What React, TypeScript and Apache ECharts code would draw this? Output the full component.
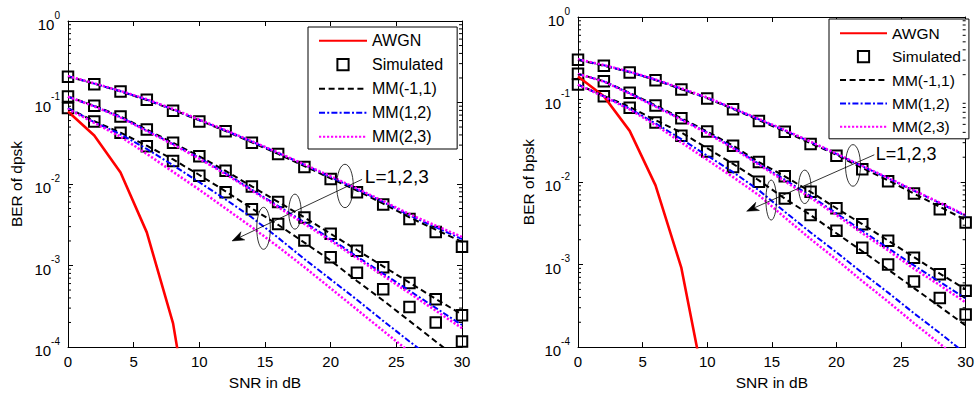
import React, { useEffect, useRef } from "react";
import * as echarts from "echarts";

// ---------- data ----------
const SNR = [0, 2, 4, 6, 8, 10, 12, 14, 16, 18, 20, 22, 24, 26, 28, 30];
const AWGN_SNR = [0, 2, 4, 6, 8, 10];

// Left panel: DPSK
const DPSK_AWGN = [0.0776, 0.0393, 0.0138, 0.00255, 0.000195, 0.0000023];
const DPSK_SIM_L1 = [0.2075, 0.1675, 0.1361, 0.1079, 0.0794, 0.0586, 0.0443, 0.032, 0.0234, 0.0162, 0.0115, 0.00794, 0.00562, 0.00372, 0.00257, 0.0017];
const DPSK_SIM_L2 = [0.1183, 0.0912, 0.0675, 0.0465, 0.032, 0.0219, 0.0145, 0.00933, 0.00603, 0.00389, 0.00245, 0.00152, 0.000955, 0.00061, 0.000385, 0.000245];
const DPSK_SIM_L3 = [0.0855, 0.0586, 0.0424, 0.029, 0.0191, 0.0126, 0.00794, 0.0049, 0.00324, 0.00202, 0.00126, 0.000813, 0.000513, 0.000309, 0.0002, 0.000117];
const DPSK_MM11_L1 = [0.209, 0.17, 0.1365, 0.1072, 0.0813, 0.0603, 0.0447, 0.0324, 0.0234, 0.0166, 0.0117, 0.00832, 0.00575, 0.00389, 0.00275, 0.00195];
const DPSK_MM11_L2 = [0.1183, 0.0912, 0.0675, 0.0465, 0.032, 0.0219, 0.0145, 0.00933, 0.00603, 0.00389, 0.00245, 0.00155, 0.000977, 0.000617, 0.000389, 0.000251];
const DPSK_MM11_L3 = [0.0851, 0.0589, 0.0427, 0.0295, 0.02, 0.0129, 0.00813, 0.00501, 0.00316, 0.00191, 0.00115, 0.000646, 0.000372, 0.000209, 0.000117, 0.0000661];
const DPSK_MM12_L1 = [0.21, 0.1706, 0.1374, 0.1084, 0.0822, 0.061, 0.0452, 0.0331, 0.024, 0.0172, 0.01216, 0.00861, 0.00603, 0.00412, 0.00295, 0.00211];
const DPSK_MM12_L2 = [0.1175, 0.0902, 0.0661, 0.0452, 0.0309, 0.0209, 0.0135, 0.00851, 0.00537, 0.00339, 0.00211, 0.00129, 0.000794, 0.00049, 0.000302, 0.000186];
const DPSK_MM12_L3 = [0.0851, 0.0575, 0.0407, 0.0269, 0.017, 0.0105, 0.00646, 0.00389, 0.00219, 0.0012, 0.000676, 0.00038, 0.000209, 0.000117, 0.0000661, 0.0000372];
const DPSK_MM23_L1 = [0.2113, 0.1718, 0.1387, 0.1096, 0.0832, 0.0617, 0.0457, 0.0335, 0.0243, 0.0174, 0.01245, 0.00881, 0.00617, 0.00427, 0.00309, 0.00224];
const DPSK_MM23_L2 = [0.1175, 0.0897, 0.0653, 0.0447, 0.0305, 0.0204, 0.0132, 0.00832, 0.00519, 0.00324, 0.00202, 0.00123, 0.00075, 0.000457, 0.000279, 0.00017];
const DPSK_MM23_L3 = [0.0832, 0.0562, 0.038, 0.0234, 0.0141, 0.00851, 0.00501, 0.00295, 0.0017, 0.000955, 0.000525, 0.000288, 0.000158, 0.0000871, 0.0000479, 0.0000263];

// Right panel: BPSK
const BPSK_AWGN = [0.1905, 0.1096, 0.0417, 0.00912, 0.000912, 0.0000229];
const BPSK_SIM_L1 = [0.3027, 0.2564, 0.2133, 0.171, 0.1321, 0.103, 0.076, 0.0551, 0.0407, 0.029, 0.0209, 0.01426, 0.01023, 0.00728, 0.00468, 0.00324];
const BPSK_SIM_L2 = [0.2056, 0.1663, 0.1205, 0.0849, 0.0593, 0.041, 0.0276, 0.01746, 0.01175, 0.00762, 0.00481, 0.00309, 0.00195, 0.00121, 0.000762, 0.000482];
const BPSK_SIM_L3 = [0.1517, 0.1099, 0.0796, 0.0526, 0.0364, 0.0234, 0.01521, 0.01005, 0.00634, 0.00398, 0.00257, 0.0016, 0.001005, 0.000624, 0.000394, 0.000248];
const BPSK_MM11_L1 = [0.302, 0.257, 0.214, 0.1718, 0.1334, 0.1035, 0.0767, 0.0562, 0.0412, 0.0295, 0.0214, 0.01479, 0.01047, 0.00724, 0.00501, 0.00347];
const BPSK_MM11_L2 = [0.2056, 0.1663, 0.1205, 0.0849, 0.0593, 0.041, 0.0276, 0.01746, 0.01175, 0.00762, 0.00481, 0.00309, 0.00195, 0.00123, 0.000776, 0.000501];
const BPSK_MM11_L3 = [0.1514, 0.1109, 0.0813, 0.0562, 0.0398, 0.0257, 0.0166, 0.01047, 0.00631, 0.00398, 0.0024, 0.00145, 0.000871, 0.000519, 0.000309, 0.000183];
const BPSK_MM12_L1 = [0.3055, 0.26, 0.2163, 0.1738, 0.1349, 0.1047, 0.0776, 0.0575, 0.0422, 0.0305, 0.0219, 0.0155, 0.01109, 0.00785, 0.00556, 0.00389];
const BPSK_MM12_L2 = [0.2042, 0.166, 0.1189, 0.0832, 0.0575, 0.0398, 0.0263, 0.0166, 0.01072, 0.00676, 0.00417, 0.00257, 0.00158, 0.000977, 0.000617, 0.000389];
const BPSK_MM12_L3 = [0.1514, 0.1096, 0.0776, 0.0513, 0.0331, 0.0209, 0.0132, 0.00794, 0.00437, 0.00245, 0.00141, 0.000794, 0.000457, 0.000257, 0.000148, 0.0000832];
const BPSK_MM23_L1 = [0.3076, 0.2618, 0.2178, 0.175, 0.1365, 0.1059, 0.0785, 0.0582, 0.0427, 0.0309, 0.0221, 0.01567, 0.01122, 0.00794, 0.00562, 0.00398];
const BPSK_MM23_L2 = [0.2042, 0.1652, 0.1175, 0.0822, 0.0569, 0.0389, 0.0257, 0.0162, 0.01023, 0.00646, 0.00398, 0.0024, 0.00148, 0.000891, 0.000562, 0.000347];
const BPSK_MM23_L3 = [0.1514, 0.1084, 0.0759, 0.049, 0.0302, 0.0186, 0.01148, 0.00692, 0.00372, 0.00204, 0.00115, 0.000631, 0.000355, 0.000195, 0.00011, 0.0000603];

// Axis ticks
const X_MIN = 0;
const X_MAX = 30;
const X_STEP = 5;
const Y_MIN = 1e-4;
const Y_MAX = 1;
const DECADES = [1e-4, 1e-3, 1e-2, 1e-1];
const MINOR_MANTISSAS = [2, 3, 4, 5, 6, 7, 8, 9];

const LEGEND_NAMES = ["AWGN", "Simulated", "MM(-1,1)", "MM(1,2)", "MM(2,3)"];
const Y_TITLES = ["BER of dpsk", "BER of bpsk"];
const X_TITLE = "SNR in dB";
const ANNOT_TEXT = "L=1,2,3";

// annotation anchor points in data coordinates (SNR, BER)
const DPSK_ELLIPSE_CENTERS = [[21.09, 0.00946], [17.28, 0.00458], [14.89, 0.00286]];
const DPSK_ARROW = [[22.39, 0.0114], [12.49, 0.002]];
const DPSK_LABEL_AT = [22.6, 0.01239];
const BPSK_ELLIPSE_CENTERS = [[21.28, 0.0159], [17.55, 0.00875], [14.95, 0.00605]];
const BPSK_ARROW = [[22.93, 0.0214], [13.05, 0.00443]];
const BPSK_LABEL_AT = [23.05, 0.022];

// ---------- styles ----------
const FONT = "Liberation Sans, Arial, Helvetica, sans-serif";
const BLACK = "#000000";
const RED = "#ff0000";
const BLUE = "#0000ff";
const MAGENTA = "#ff00ff";

const MINOR_TICKS = DECADES.flatMap((d) => MINOR_MANTISSAS.map((m) => +(m * d).toPrecision(3)));

const pts = (xs: number[], ys: number[]) => xs.map((x, i) => [x, ys[i]]);

const axisLine = { show: true, onZero: false, lineStyle: { color: BLACK, width: 1 } };

function xAxesFor(grid: number) {
  const base = {
    type: "value",
    gridIndex: grid,
    min: X_MIN,
    max: X_MAX,
    interval: X_STEP,
    axisLine,
    axisTick: { show: true, inside: true, length: 5, lineStyle: { color: BLACK, width: 1 } },
    splitLine: { show: false },
  };
  return [
    {
      ...base,
      position: "bottom",
      axisLabel: { show: true, color: BLACK, fontSize: 15, fontFamily: FONT, margin: 7 },
      name: X_TITLE,
      nameLocation: "middle",
      nameGap: grid === 0 ? 27 : 26,
      nameTextStyle: { color: BLACK, fontSize: 15.5, fontFamily: FONT },
    },
    { ...base, position: "top", axisLabel: { show: false } },
  ];
}

function yAxesFor(grid: number) {
  const base = {
    type: "log",
    logBase: 10,
    gridIndex: grid,
    min: Y_MIN,
    max: Y_MAX,
    splitLine: { show: false },
  };
  const majorTick = { show: true, inside: true, length: 5, lineStyle: { color: BLACK, width: 1 } };
  return [
    {
      ...base,
      position: "left",
      axisLine,
      axisTick: majorTick,
      axisLabel: {
        show: true,
        margin: 8,
        formatter: (v: number) => `{a|10}{b|${Math.round(Math.log10(v))}}`,
        rich: {
          a: { fontSize: 15, fontFamily: FONT, color: BLACK, lineHeight: 22, verticalAlign: "bottom" },
          b: { fontSize: 10, fontFamily: FONT, color: BLACK, lineHeight: 8, verticalAlign: "top" },
        },
      },
      name: Y_TITLES[grid],
      nameLocation: "middle",
      nameGap: grid === 0 ? 44 : 42,
      nameTextStyle: { color: BLACK, fontSize: 15.5, fontFamily: FONT },
    },
    { ...base, position: "right", axisLine, axisTick: majorTick, axisLabel: { show: false } },
  ];
}

type Panel = {
  awgn: number[];
  sim: number[][];
  mm11: number[][];
  mm12: number[][];
  mm23: number[][];
};

const PANELS: Panel[] = [
  {
    awgn: DPSK_AWGN,
    sim: [DPSK_SIM_L1, DPSK_SIM_L2, DPSK_SIM_L3],
    mm11: [DPSK_MM11_L1, DPSK_MM11_L2, DPSK_MM11_L3],
    mm12: [DPSK_MM12_L1, DPSK_MM12_L2, DPSK_MM12_L3],
    mm23: [DPSK_MM23_L1, DPSK_MM23_L2, DPSK_MM23_L3],
  },
  {
    awgn: BPSK_AWGN,
    sim: [BPSK_SIM_L1, BPSK_SIM_L2, BPSK_SIM_L3],
    mm11: [BPSK_MM11_L1, BPSK_MM11_L2, BPSK_MM11_L3],
    mm12: [BPSK_MM12_L1, BPSK_MM12_L2, BPSK_MM12_L3],
    mm23: [BPSK_MM23_L1, BPSK_MM23_L2, BPSK_MM23_L3],
  },
];

function seriesFor(grid: number, p: Panel) {
  const xAxisIndex = grid * 2;
  const yAxisIndex = grid * 2;
  const common = { xAxisIndex, yAxisIndex, silent: true, animation: false, emphasis: { disabled: true } };
  const out: any[] = [];
  // minor log ticks on left and right frame edges
  out.push({
    type: "custom",
    xAxisIndex,
    yAxisIndex,
    silent: true,
    clip: false,
    z: 5,
    data: MINOR_TICKS.map((v) => [X_MIN, v]),
    encode: { x: 0, y: 1 },
    renderItem: (_params: any, api: any) => {
      const v = api.value(1);
      const a = api.coord([X_MIN, v]);
      const b = api.coord([X_MAX, v]);
      const st = { stroke: BLACK, lineWidth: 1 };
      return {
        type: "group",
        children: [
          { type: "line", shape: { x1: a[0], y1: a[1], x2: a[0] + 3, y2: a[1] }, style: st },
          { type: "line", shape: { x1: b[0] - 3, y1: b[1], x2: b[0], y2: b[1] }, style: st },
        ],
      };
    },
  });
  p.sim.forEach((ys) =>
    out.push({
      ...common,
      type: "line",
      name: "Simulated",
      data: pts(SNR, ys),
      symbol: "rect",
      symbolSize: 10.5,
      showSymbol: true,
      lineStyle: { opacity: 0, width: 0 },
      itemStyle: { color: "rgba(0,0,0,0)", borderColor: BLACK, borderWidth: 2 },
      z: 2,
    })
  );
  out.push({
    ...common,
    type: "line",
    name: "AWGN",
    data: pts(AWGN_SNR, p.awgn),
    symbol: "none",
    lineStyle: { color: RED, width: 2.6, type: "solid" },
    itemStyle: { color: RED, opacity: 0 },
    z: 3,
  });
  const lineSet = (name: string, arr: number[][], color: string, type: any, width: number) =>
    arr.forEach((ys) =>
      out.push({
        ...common,
        type: "line",
        name,
        data: pts(SNR, ys),
        symbol: "none",
        lineStyle: { color, width, type },
        itemStyle: { color, opacity: 0 },
        z: 3,
      })
    );
  lineSet("MM(-1,1)", p.mm11, BLACK, [6, 3.6], 2);
  lineSet("MM(1,2)", p.mm12, BLUE, [6, 2.2, 2, 2.2], 2);
  lineSet("MM(2,3)", p.mm23, MAGENTA, [2.2, 1.8], 2.5);
  return out;
}

function legendFor(grid: number) {
  const left = grid === 0;
  return {
    show: true,
    orient: "vertical",
    left: left ? 308 : 829,
    top: left ? 27 : 19,
    itemWidth: left ? 48 : 47,
    itemHeight: 14,
    itemGap: left ? 8 : 7.4,
    itemTextGap: 6,
    padding: left ? [5.7, 14, 4.3, 10] : [6.2, 8, 4, 10],
    borderColor: BLACK,
    borderWidth: 1,
    backgroundColor: "#ffffff",
    selectedMode: false,
    textStyle: { color: BLACK, fontSize: left ? 16 : 15.5, fontFamily: FONT },
    data: LEGEND_NAMES,
  };
}

export default function App() {
  const ref = useRef<HTMLDivElement>(null);
  useEffect(() => {
    if (!ref.current) return;
    const chart = echarts.init(ref.current, null, { renderer: "svg" });
    const option: any = {
      animation: false,
      backgroundColor: "#ffffff",
      grid: [
        { left: 68, top: 21, width: 394, height: 328, containLabel: false },
        { left: 578, top: 17, width: 394, height: 333, containLabel: false },
      ],
      xAxis: [...xAxesFor(0), ...xAxesFor(1)],
      yAxis: [...yAxesFor(0), ...yAxesFor(1)],
      legend: [legendFor(0), legendFor(1)],
      series: [...seriesFor(0, PANELS[0]), ...seriesFor(1, PANELS[1])],
    };
    chart.setOption(option);

    const annots = [
      { grid: 0, ellipses: DPSK_ELLIPSE_CENTERS, radii: [[8.3, 21.7], [6.2, 17.5], [6.8, 21]], arrow: DPSK_ARROW, label: DPSK_LABEL_AT, fs: 19 },
      { grid: 1, ellipses: BPSK_ELLIPSE_CENTERS, radii: [[7.5, 20.8], [6.2, 16.7], [5.3, 20]], arrow: BPSK_ARROW, label: BPSK_LABEL_AT, fs: 18 },
    ];
    const graphics: any[] = [];
    annots.forEach((a) => {
      const finder = { xAxisIndex: a.grid * 2, yAxisIndex: a.grid * 2 };
      const px = (p: number[]) => chart.convertToPixel(finder as any, p) as number[];
      a.ellipses.forEach((c, i) => {
        const [cx, cy] = px(c);
        graphics.push({
          type: "ellipse",
          silent: true,
          z: 100,
          shape: { cx, cy, rx: a.radii[i][0], ry: a.radii[i][1] },
          style: { fill: "none", stroke: BLACK, lineWidth: 0.8 },
        });
      });
      const [sx, sy] = px(a.arrow[0]);
      const [tx, ty] = px(a.arrow[1]);
      const len = Math.hypot(tx - sx, ty - sy);
      const dx = (tx - sx) / len;
      const dy = (ty - sy) / len;
      const nx = -dy;
      const ny = dx;
      const L = 12;
      const W = 4.5;
      const notch = 3.5;
      graphics.push({
        type: "line",
        silent: true,
        z: 100,
        shape: { x1: sx, y1: sy, x2: tx - dx * (L - notch), y2: ty - dy * (L - notch) },
        style: { stroke: BLACK, lineWidth: 0.8 },
      });
      graphics.push({
        type: "polygon",
        silent: true,
        z: 100,
        shape: {
          points: [
            [tx, ty],
            [tx - dx * L + nx * W, ty - dy * L + ny * W],
            [tx - dx * (L - notch), ty - dy * (L - notch)],
            [tx - dx * L - nx * W, ty - dy * L - ny * W],
          ],
        },
        style: { fill: BLACK, stroke: BLACK, lineWidth: 0.5 },
      });
      const [lx, ly] = px(a.label);
      graphics.push({
        type: "text",
        silent: true,
        z: 100,
        x: lx,
        y: ly,
        style: {
          text: ANNOT_TEXT,
          fill: BLACK,
          fontSize: a.fs,
          fontFamily: FONT,
          align: "left",
          verticalAlign: "middle",
        },
      });
    });
    chart.setOption({ graphic: graphics });

    return () => chart.dispose();
  }, []);
  return (
    <div
      ref={ref}
      style={{ position: "absolute", left: 0, top: 0, width: 977, height: 395, background: "#fff" }}
    />
  );
}
